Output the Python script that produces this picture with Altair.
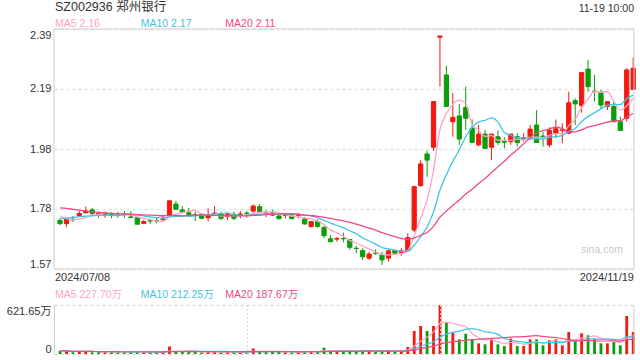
import altair as alt
import pandas as pd

# ---------------- data ----------------
opens = [1.736, 1.725, 1.740, 1.753, 1.762, 1.772, 1.760, 1.756, 1.758, 1.757,
         1.758, 1.748, 1.745, 1.726, 1.735, 1.735, 1.739, 1.752, 1.792, 1.772,
         1.762, 1.755, 1.757, 1.745, 1.759, 1.758, 1.749, 1.757, 1.756, 1.761,
         1.768, 1.783, 1.761, 1.762, 1.751, 1.753, 1.751, 1.753, 1.741, 1.715,
         1.732, 1.712, 1.673, 1.672, 1.674, 1.671, 1.641, 1.633, 1.607, 1.624,
         1.618, 1.607, 1.633, 1.626, 1.633, 1.703, 1.855, 1.963, 1.986, 2.362,
         2.233, 2.073, 2.093, 2.122, 2.051, 1.994, 2.031, 1.986, 2.022, 2.005,
         2.005, 2.022, 2.016, 2.020, 2.062, 2.024, 1.994, 2.034, 2.043, 2.034,
         2.145, 2.128, 2.253, 2.178, 2.172, 2.125, 2.125, 2.073, 2.085, 2.184]
closes = [1.725, 1.740, 1.738, 1.760, 1.768, 1.760, 1.756, 1.762, 1.757, 1.756,
          1.757, 1.746, 1.723, 1.732, 1.734, 1.734, 1.741, 1.803, 1.774, 1.764,
          1.756, 1.754, 1.743, 1.754, 1.761, 1.743, 1.757, 1.743, 1.758, 1.760,
          1.785, 1.766, 1.760, 1.754, 1.742, 1.755, 1.742, 1.755, 1.724, 1.732,
          1.715, 1.684, 1.663, 1.674, 1.673, 1.644, 1.640, 1.612, 1.621, 1.623,
          1.601, 1.632, 1.624, 1.632, 1.677, 1.851, 1.929, 1.942, 2.142, 2.366,
          2.125, 2.088, 2.014, 2.085, 2.002, 2.031, 1.982, 2.031, 2.002, 2.003,
          2.031, 2.002, 2.018, 2.048, 2.002, 2.022, 2.043, 2.049, 2.045, 2.138,
          2.134, 2.241, 2.193, 2.176, 2.130, 2.142, 2.073, 2.043, 2.250, 2.256]
highs = [1.743, 1.742, 1.751, 1.768, 1.783, 1.779, 1.766, 1.766, 1.764, 1.766,
         1.769, 1.768, 1.746, 1.737, 1.743, 1.747, 1.751, 1.804, 1.803, 1.785,
         1.779, 1.766, 1.760, 1.777, 1.785, 1.766, 1.764, 1.766, 1.768, 1.768,
         1.791, 1.792, 1.772, 1.772, 1.758, 1.762, 1.758, 1.762, 1.748, 1.734,
         1.740, 1.717, 1.686, 1.680, 1.694, 1.672, 1.649, 1.641, 1.629, 1.637,
         1.629, 1.637, 1.635, 1.641, 1.692, 1.855, 1.942, 1.974, 2.144, 2.366,
         2.264, 2.172, 2.134, 2.193, 2.081, 2.062, 2.045, 2.031, 2.043, 2.020,
         2.031, 2.034, 2.034, 2.062, 2.113, 2.039, 2.054, 2.081, 2.068, 2.176,
         2.153, 2.244, 2.284, 2.233, 2.182, 2.142, 2.142, 2.090, 2.256, 2.293]
lows = [1.720, 1.713, 1.731, 1.751, 1.760, 1.754, 1.745, 1.745, 1.743, 1.745,
        1.745, 1.745, 1.722, 1.724, 1.724, 1.726, 1.732, 1.751, 1.772, 1.760,
        1.747, 1.734, 1.740, 1.732, 1.757, 1.737, 1.737, 1.737, 1.743, 1.745,
        1.760, 1.762, 1.747, 1.751, 1.740, 1.743, 1.740, 1.743, 1.721, 1.712,
        1.712, 1.675, 1.663, 1.663, 1.661, 1.635, 1.624, 1.601, 1.601, 1.618,
        1.584, 1.595, 1.618, 1.615, 1.629, 1.696, 1.851, 1.885, 1.974, 2.193,
        2.125, 2.022, 1.994, 2.045, 2.000, 1.988, 1.982, 1.942, 1.994, 1.982,
        1.994, 1.988, 2.005, 2.011, 2.002, 1.988, 1.986, 2.017, 2.000, 2.031,
        2.062, 2.104, 2.176, 2.142, 2.119, 2.113, 2.073, 2.043, 2.073, 2.182]
volumes = [40, 40, 22, 35, 35, 22, 25, 22, 25, 25,
           25, 30, 25, 25, 25, 15, 25, 95, 30, 25,
           38, 25, 22, 25, 25, 25, 25, 25, 25, 25,
           70, 28, 25, 25, 25, 25, 25, 25, 33, 38,
           30, 80, 38, 25, 38, 38, 38, 47, 47, 25,
           38, 47, 25, 47, 89, 292, 355, 292, 355, 621.65,
           397, 271, 186, 258, 186, 135, 123, 186, 123, 101,
           195, 101, 101, 186, 186, 110, 173, 186, 110, 279,
           173, 262, 237, 195, 135, 135, 152, 110, 482, 279]
# MA values at the left edge (their windows start before the visible range)
ma5_lead = [1.752, 1.742, 1.738, 1.741]
ma10_lead = [1.743, 1.744, 1.746, 1.749, 1.751, 1.752, 1.753, 1.754, 1.753]
ma20_lead = [1.779, 1.777, 1.774, 1.771, 1.768, 1.765, 1.763, 1.761, 1.760, 1.759,
             1.758, 1.757, 1.756, 1.755, 1.754, 1.753, 1.752, 1.753, 1.753]

date_labels = ["2024/07/08", "2024/11/19"]
price_ticks = [1.57, 1.7751, 1.98, 2.1851, 2.39]
vol_ticks = [0, 621.65]
vol_tick_labels = ["0", "621.65万"]
vol_grid_x = [29.1, 59.1]
title_text = "SZ002936 郑州银行"
time_text = "11-19 10:00"
ma_labels = ["MA5 2.16", "MA10 2.17", "MA20 2.11"]
vol_ma_labels = ["MA5 227.70万", "MA10 212.25万", "MA20 187.67万"]
watermark = "sina.com"


def rolling(vals, w, lead=None):
    out = []
    for i in range(len(vals)):
        if lead is not None and i < len(lead):
            out.append(lead[i])
        else:
            s = vals[max(0, i - w + 1): i + 1]
            out.append(sum(s) / len(s))
    return out


n = len(closes)
df = pd.DataFrame({
    "idx": list(range(n)),
    "open": opens, "close": closes, "high": highs, "low": lows, "vol": volumes,
})
df["dir"] = ["up" if c >= o else "down" for o, c in zip(opens, closes)]
df["ma5"] = rolling(closes, 5, ma5_lead)
df["ma10"] = rolling(closes, 10, ma10_lead)
df["ma20"] = rolling(closes, 20, ma20_lead)
df["vma5"] = rolling(volumes, 5)
df["vma10"] = rolling(volumes, 10)
df["vma20"] = rolling(volumes, 20)

# ---------------- style / layout ----------------
FONT = "Liberation Sans, Noto Sans CJK SC, sans-serif"
RED = "#f2190f"
GREEN = "#0a9e0a"
C5, C10, C20 = "#ffa3c4", "#3fc4e4", "#ee4a84"
TXT = "#333333"
BORDER = "#cfcfcf"

W = 580            # plot width (x 54..634)
PH = 240           # price panel height (y 29..269)
V0, V1 = 276, 325  # volume panel top/bottom relative to plot origin (y 305..354)
TOTAL_H = V1

XMIN, XMAX = -0.932, 89.13
xs = alt.Scale(domain=[XMIN, XMAX], nice=False, zero=False)
ys = alt.Scale(domain=[1.57, 2.39], nice=False, zero=False, range=[PH, 0])
vs = alt.Scale(domain=[0, 621.65], nice=False, zero=True, range=[V1, V0])
cs = alt.Scale(domain=["up", "down"], range=[RED, GREEN])

y_axis = alt.Axis(values=price_ticks, format=".2f", labelFlush=True, ticks=False,
                  domain=False, grid=True, gridDash=[3, 3], gridColor="#e2e2e2",
                  gridWidth=1.5, labelPadding=3, labelFontSize=11, labelColor=TXT,
                  labelFont=FONT, title=None, orient="left")
vy_axis = alt.Axis(values=vol_ticks,
                   labelExpr=f"datum.value > 0 ? '{vol_tick_labels[1]}' : '{vol_tick_labels[0]}'",
                   labelFlush=True, ticks=False, domain=True, domainColor=BORDER,
                   grid=True, gridDash=[3, 3], gridColor="#dcdcdc", gridWidth=1.5,
                   labelPadding=3, labelFontSize=11, labelColor=TXT, labelFont=FONT,
                   title=None, orient="left")

base = alt.Chart(df)
one = pd.DataFrame({"a": [0]})

wick = base.mark_rule(strokeWidth=1).encode(
    x=alt.X("idx:Q", scale=xs, axis=None),
    y=alt.Y("low:Q", scale=ys, axis=y_axis),
    y2="high:Q",
    color=alt.Color("dir:N", scale=cs, legend=None),
)
body = base.transform_calculate(
    xa="datum.idx - 0.33", xb="datum.idx + 0.33"
).mark_bar(strokeWidth=1).encode(
    x=alt.X("xa:Q", scale=xs, axis=None),
    x2="xb:Q",
    y=alt.Y("open:Q", scale=ys, axis=y_axis),
    y2="close:Q",
    color=alt.Color("dir:N", scale=cs, legend=None),
    stroke=alt.Stroke("dir:N", scale=cs, legend=None),
)


def line(col, color, yscale, yaxis, width=1.3):
    return base.mark_line(interpolate="monotone", strokeWidth=width, color=color).encode(
        x=alt.X("idx:Q", scale=xs, axis=None),
        y=alt.Y(f"{col}:Q", scale=yscale, axis=yaxis),
    )


def label(text, x, y, color, size=10.5, align="left", baseline="alphabetic"):
    return alt.Chart(pd.DataFrame({"t": [text]})).mark_text(
        align=align, baseline=baseline, fontSize=size, font=FONT, color=color
    ).encode(x=alt.value(x), y=alt.value(y), text="t:N")


price_border = alt.Chart(one).mark_rect(fill="transparent", stroke=BORDER, strokeWidth=1).encode(
    x=alt.value(0), x2=alt.value(W), y=alt.value(0), y2=alt.value(PH)
)

price = alt.layer(
    wick, body,
    line("ma5", C5, ys, y_axis),
    line("ma10", C10, ys, y_axis),
    line("ma20", C20, ys, y_axis),
)

vbar = base.transform_calculate(
    xa="datum.idx - 0.22", xb="datum.idx + 0.22", v0="0"
).mark_rect().encode(
    x=alt.X("xa:Q", scale=xs, axis=None),
    x2="xb:Q",
    y=alt.Y("vol:Q", scale=vs, axis=vy_axis),
    y2="v0:Q",
    color=alt.Color("dir:N", scale=cs, legend=None),
)

vgrid = alt.Chart(pd.DataFrame({"gx": vol_grid_x})).mark_rule(
    color="#d8d8d8", strokeWidth=1, strokeDash=[2, 2]
).encode(x=alt.X("gx:Q", scale=xs, axis=None), y=alt.value(V0), y2=alt.value(V1))

vright = alt.Chart(one).mark_rule(color=BORDER, strokeWidth=1).encode(
    x=alt.value(W), y=alt.value(V0), y2=alt.value(V1)
)

volume = alt.layer(
    vbar,
    line("vma5", C5, vs, vy_axis, 1.2),
    line("vma10", C10, vs, vy_axis, 1.2),
    line("vma20", C20, vs, vy_axis, 1.2),
)

texts = alt.layer(
    price_border, vgrid, vright,
    label(title_text, 1, -17.7, TXT, size=12.5),
    label(time_text, W, -17.3, TXT, size=10.5, align="right"),
    label(ma_labels[0], 1, -2.5, C5),
    label(ma_labels[1], 86.7, -2.5, C10),
    label(ma_labels[2], 171.3, -2.5, C20),
    label(vol_ma_labels[0], 1, V0 - 6.7, C5),
    label(vol_ma_labels[1], 86.7, V0 - 6.7, C10),
    label(vol_ma_labels[2], 171.3, V0 - 6.7, C20),
    label(date_labels[0], 1, PH + 2.5, TXT, size=11, baseline="top"),
    label(date_labels[1], W, PH + 2.5, TXT, size=11, align="right", baseline="top"),
    label(watermark, 569, 224.3, "#c8c8c8", size=10.5, align="right"),
)

chart = alt.layer(volume, price, texts).resolve_scale(y="independent").properties(
    width=W, height=TOTAL_H,
    padding={"left": 54, "top": 29, "right": 6, "bottom": 6},
    autosize=alt.AutoSizeParams(type="none"),
    background="white",
).configure_view(stroke="transparent")

chart.save("out.html", embed_options={"renderer": "svg", "actions": False})
